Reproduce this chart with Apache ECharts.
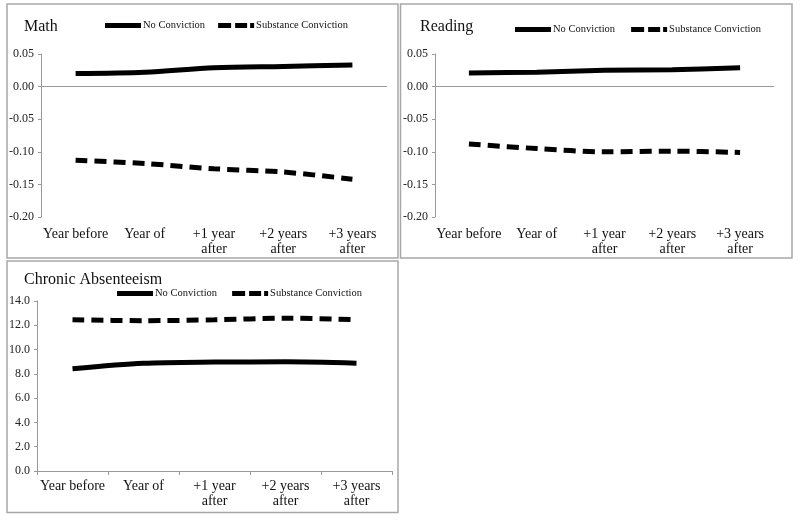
<!DOCTYPE html>
<html><head><meta charset="utf-8">
<script src="https://cdn.jsdelivr.net/npm/echarts@6/dist/echarts.min.js"></script>
<style>html,body{margin:0;padding:0;background:#fff}#c{width:800px;height:520px}</style>
</head><body><div id="c"></div>
<script>
var categories = ['Year before', 'Year of', '+1 year\nafter', '+2 years\nafter', '+3 years\nafter'];
var seriesNames = ['No Conviction', 'Substance Conviction'];
var mathNo = [0.020, 0.022, 0.029, 0.031, 0.033];
var mathSub = [-0.113, -0.118, -0.126, -0.131, -0.142];
var readNo = [0.021, 0.022, 0.025, 0.026, 0.029];
var readSub = [-0.088, -0.095, -0.100, -0.099, -0.101];
var absNo = [8.42, 8.87, 8.97, 8.99, 8.87];
var absSub = [12.46, 12.38, 12.45, 12.58, 12.47];
var panelTitles = ['Math', 'Reading', 'Chronic Absenteeism'];
var scoreTicks = {min: -0.20, max: 0.05, interval: 0.05};
var absTicks = {min: 0, max: 14, interval: 2};

var FONT = '"Liberation Serif", serif';
var chart = echarts.init(document.getElementById('c'));

var grids = [
  {left: 41, right: 413, top: 54, bottom: 303},
  {left: 435, right: 26, top: 54, bottom: 303},
  {left: 37, right: 408, top: 301, bottom: 49}
];
function xAx(i, withLine) {
  return {
    type: 'category', gridIndex: i, data: categories, boundaryGap: true,
    axisLine: {show: withLine, onZero: false, lineStyle: {color: '#999', width: 1}},
    axisTick: {show: withLine, length: 4, lineStyle: {color: '#999'}},
    axisLabel: {color: '#111', fontFamily: FONT, fontSize: 14, lineHeight: 15, margin: withLine ? 8 : 10, interval: 0}
  };
}
function yAx(i, t, dec) {
  return {
    type: 'value', gridIndex: i, min: t.min, max: t.max, interval: t.interval,
    axisLine: {show: true, lineStyle: {color: '#999', width: 1}},
    axisTick: {show: true, length: 3, lineStyle: {color: '#999'}},
    splitLine: {show: false},
    axisLabel: {color: '#222', fontFamily: FONT, fontSize: 12, margin: 7, formatter: function (v) { return v.toFixed(dec); }}
  };
}
function ser(name, data, i, dashed, zero) {
  var s = {
    name: name, type: 'line', xAxisIndex: i, yAxisIndex: i, data: data,
    showSymbol: false, symbol: 'none', smooth: 0.3,
    lineStyle: {color: '#000', width: 5, type: dashed ? [12, 7] : 'solid', cap: 'butt'},
    itemStyle: {color: '#000'}
  };
  if (zero) {
    s.markLine = {silent: true, symbol: 'none', label: {show: false},
      lineStyle: {color: '#999', width: 1, type: 'solid'}, data: [{yAxis: 0}]};
  }
  return s;
}
var solidIcon = 'path://M0,0h36v5h-36z';
var dashIcon = 'path://M0,0h13v5h-13z M17,0h12v5h-12z M32,0h4v5h-4z';
function legend(left, top, gap) {
  return {
    left: left, top: top, padding: 0, itemWidth: 36, itemHeight: 5, itemGap: gap,
    data: [{name: seriesNames[0], icon: solidIcon}, {name: seriesNames[1], icon: dashIcon}],
    itemStyle: {color: '#000'},
    textStyle: {fontFamily: FONT, fontSize: 10.5, color: '#111', padding: [0, 0, 0, -3]}
  };
}
function title(text, left, top) {
  return {text: text, left: left, top: top, padding: 0, textStyle: {fontFamily: FONT, fontSize: 16, fontWeight: 'normal', color: '#111'}};
}
function rect(x, y, w, h) {
  return {type: 'rect', shape: {x: x, y: y, width: w, height: h}, style: {fill: 'none', stroke: '#a8a8a8', lineWidth: 1.5}, silent: true};
}

chart.setOption({
  animation: false,
  backgroundColor: '#fff',
  title: [title(panelTitles[0], 24, 19), title(panelTitles[1], 420, 19), title(panelTitles[2], 24, 272)],
  legend: [legend(105, 20, 13), legend(515, 24, 16), legend(117, 288, 15)],
  grid: grids,
  xAxis: [xAx(0, false), xAx(1, false), xAx(2, true)],
  yAxis: [yAx(0, scoreTicks, 2), yAx(1, scoreTicks, 2), yAx(2, absTicks, 1)],
  series: [
    ser(seriesNames[0], mathNo, 0, false, true),
    ser(seriesNames[1], mathSub, 0, true, false),
    ser(seriesNames[0], readNo, 1, false, true),
    ser(seriesNames[1], readSub, 1, true, false),
    ser(seriesNames[0], absNo, 2, false, false),
    ser(seriesNames[1], absSub, 2, true, false)
  ],
  graphic: [rect(7, 4, 391, 254), rect(400.5, 4, 391.5, 254), rect(7, 261, 391, 251.5)]
});
</script></body></html>
